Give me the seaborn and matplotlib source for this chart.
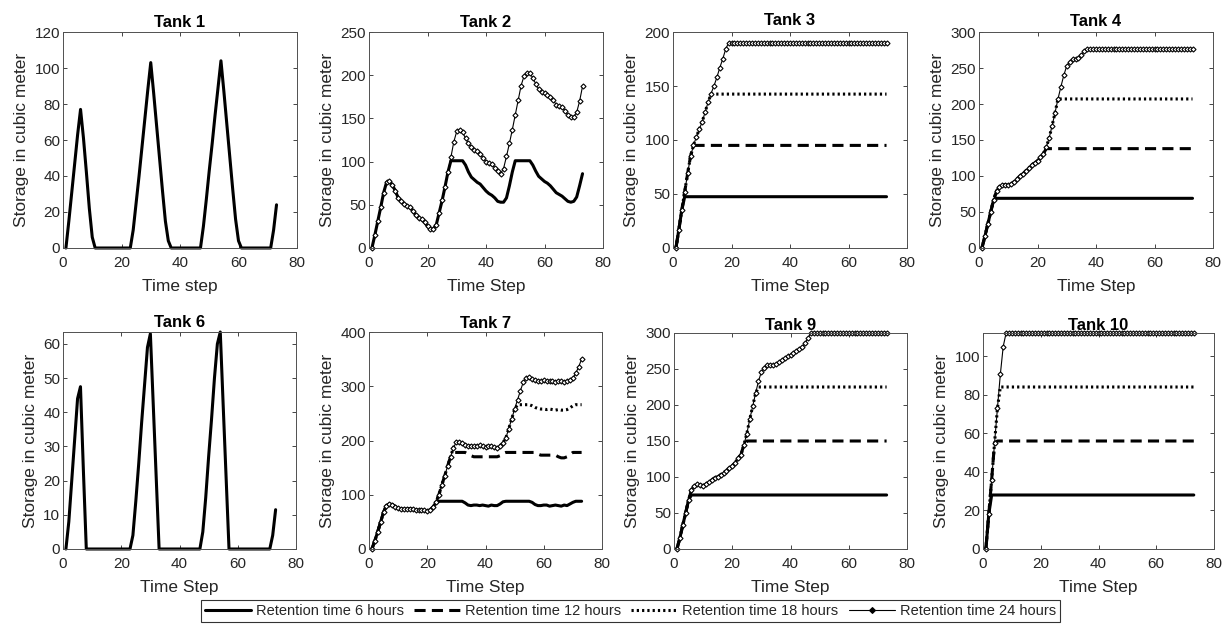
import numpy as np
import matplotlib
matplotlib.use("Agg")
import matplotlib.pyplot as plt
from matplotlib.lines import Line2D
import seaborn as sns

sns.set_theme(style="ticks")
plt.rcParams.update({
    "font.family": ["Liberation Sans", "DejaVu Sans"],
    "lines.scale_dashes": False,
    "xtick.direction": "in", "ytick.direction": "in",
    "xtick.top": True, "ytick.right": True,
    "xtick.major.size": 3, "ytick.major.size": 3,
    "xtick.major.width": 0.6, "ytick.major.width": 0.6,
    "xtick.color": "#262626", "ytick.color": "#262626",
    "xtick.labelcolor": "#262626", "ytick.labelcolor": "#262626",
    "xtick.labelsize": 11, "ytick.labelsize": 11,
    "axes.edgecolor": "#505050", "axes.linewidth": 0.7,
    "axes.labelsize": 12.5, "axes.labelcolor": "#262626",
    "axes.titlesize": 12, "axes.titleweight": "bold",
    "axes.facecolor": "white", "figure.facecolor": "white",
})

# Simulation time steps (hourly)
time_step = np.arange(1, 74)

RETENTION = ["Retention time 6 hours", "Retention time 12 hours",
             "Retention time 18 hours", "Retention time 24 hours"]

# ---------------- Tank 1 ----------------
tank1_6h = [
    0, 15, 31, 47, 63, 77, 61, 42, 22, 6,
    0, 0, 0, 0, 0, 0, 0, 0, 0, 0,
    0, 0, 0, 10, 25, 40, 56, 72, 88, 103,
    86, 68, 50, 32, 15, 4, 0, 0, 0, 0,
    0, 0, 0, 0, 0, 0, 0, 12, 27, 43,
    58, 74, 89, 104, 87, 69, 51, 33, 16, 4,
    0, 0, 0, 0, 0, 0, 0, 0, 0, 0,
    0, 10, 24,
]

# ---------------- Tank 2 ----------------
tank2_6h = [
    0, 15, 31, 47, 64, 76, 77, 73, 66, 58,
    54, 51, 49, 47, 43, 38, 35, 33, 30, 25,
    22, 22, 27, 41, 55, 71, 88, 101, 101, 101,
    101, 101, 96, 88, 82, 79, 76, 74, 70, 66,
    63, 61, 58, 54, 53, 53, 58, 72, 88, 101,
    101, 101, 101, 101, 101, 96, 89, 83, 80, 77,
    75, 72, 68, 64, 62, 60, 57, 54, 53, 54,
    59, 72, 86,
]
tank2_24h = [
    0, 15, 31, 47, 64, 76, 77, 73, 66, 58,
    54, 51, 49, 47, 43, 38, 35, 33, 30, 25,
    22, 22, 27, 41, 55, 71, 88, 105, 123, 135,
    137, 134, 127, 121, 117, 114, 112, 109, 104, 100,
    98, 97, 93, 89, 86, 92, 106, 121, 137, 154,
    171, 188, 199, 203, 202, 197, 190, 184, 181, 179,
    177, 175, 171, 166, 164, 163, 159, 154, 152, 152,
    157, 170, 187,
]

# ---------------- Tank 3 ----------------
tank3_6h = [
    0, 17, 35, 47.5, 47.5, 47.5, 47.5, 47.5, 47.5, 47.5,
    47.5, 47.5, 47.5, 47.5, 47.5, 47.5, 47.5, 47.5, 47.5, 47.5,
    47.5, 47.5, 47.5, 47.5, 47.5, 47.5, 47.5, 47.5, 47.5, 47.5,
    47.5, 47.5, 47.5, 47.5, 47.5, 47.5, 47.5, 47.5, 47.5, 47.5,
    47.5, 47.5, 47.5, 47.5, 47.5, 47.5, 47.5, 47.5, 47.5, 47.5,
    47.5, 47.5, 47.5, 47.5, 47.5, 47.5, 47.5, 47.5, 47.5, 47.5,
    47.5, 47.5, 47.5, 47.5, 47.5, 47.5, 47.5, 47.5, 47.5, 47.5,
    47.5, 47.5, 47.5,
]
tank3_12h = [
    0, 17, 35, 52, 69, 85, 95, 95, 95, 95,
    95, 95, 95, 95, 95, 95, 95, 95, 95, 95,
    95, 95, 95, 95, 95, 95, 95, 95, 95, 95,
    95, 95, 95, 95, 95, 95, 95, 95, 95, 95,
    95, 95, 95, 95, 95, 95, 95, 95, 95, 95,
    95, 95, 95, 95, 95, 95, 95, 95, 95, 95,
    95, 95, 95, 95, 95, 95, 95, 95, 95, 95,
    95, 95, 95,
]
tank3_18h = [
    0, 17, 35, 52, 69, 85, 95, 103, 110, 117,
    126, 135, 142.5, 142.5, 142.5, 142.5, 142.5, 142.5, 142.5, 142.5,
    142.5, 142.5, 142.5, 142.5, 142.5, 142.5, 142.5, 142.5, 142.5, 142.5,
    142.5, 142.5, 142.5, 142.5, 142.5, 142.5, 142.5, 142.5, 142.5, 142.5,
    142.5, 142.5, 142.5, 142.5, 142.5, 142.5, 142.5, 142.5, 142.5, 142.5,
    142.5, 142.5, 142.5, 142.5, 142.5, 142.5, 142.5, 142.5, 142.5, 142.5,
    142.5, 142.5, 142.5, 142.5, 142.5, 142.5, 142.5, 142.5, 142.5, 142.5,
    142.5, 142.5, 142.5,
]
tank3_24h = [
    0, 17, 35, 52, 69, 85, 95, 103, 110, 117,
    126, 135, 143, 150, 158, 167, 175, 184, 190, 190,
    190, 190, 190, 190, 190, 190, 190, 190, 190, 190,
    190, 190, 190, 190, 190, 190, 190, 190, 190, 190,
    190, 190, 190, 190, 190, 190, 190, 190, 190, 190,
    190, 190, 190, 190, 190, 190, 190, 190, 190, 190,
    190, 190, 190, 190, 190, 190, 190, 190, 190, 190,
    190, 190, 190,
]

# ---------------- Tank 4 ----------------
tank4_6h = [
    0, 16, 33, 50, 67, 69, 69, 69, 69, 69,
    69, 69, 69, 69, 69, 69, 69, 69, 69, 69,
    69, 69, 69, 69, 69, 69, 69, 69, 69, 69,
    69, 69, 69, 69, 69, 69, 69, 69, 69, 69,
    69, 69, 69, 69, 69, 69, 69, 69, 69, 69,
    69, 69, 69, 69, 69, 69, 69, 69, 69, 69,
    69, 69, 69, 69, 69, 69, 69, 69, 69, 69,
    69, 69, 69,
]
tank4_12h = [
    0, 16, 33, 50, 67, 79, 85, 88, 88, 87,
    89, 92, 96, 100, 103, 107, 111, 115, 118, 121,
    126, 131, 138, 138, 138, 138, 138, 138, 138, 138,
    138, 138, 138, 138, 138, 138, 138, 138, 138, 138,
    138, 138, 138, 138, 138, 138, 138, 138, 138, 138,
    138, 138, 138, 138, 138, 138, 138, 138, 138, 138,
    138, 138, 138, 138, 138, 138, 138, 138, 138, 138,
    138, 138, 138,
]
tank4_18h = [
    0, 16, 33, 50, 67, 79, 85, 88, 88, 87,
    89, 92, 96, 100, 103, 107, 111, 115, 118, 121,
    126, 131, 140, 153, 170, 188, 207, 207, 207, 207,
    207, 207, 207, 207, 207, 207, 207, 207, 207, 207,
    207, 207, 207, 207, 207, 207, 207, 207, 207, 207,
    207, 207, 207, 207, 207, 207, 207, 207, 207, 207,
    207, 207, 207, 207, 207, 207, 207, 207, 207, 207,
    207, 207, 207,
]
tank4_24h = [
    0, 16, 33, 50, 67, 79, 85, 88, 88, 87,
    89, 92, 96, 100, 103, 107, 111, 115, 118, 121,
    126, 131, 140, 153, 170, 188, 207, 224, 240, 253,
    259, 263, 263, 264, 268, 274, 277, 277, 277, 277,
    277, 277, 277, 277, 277, 277, 277, 277, 277, 277,
    277, 277, 277, 277, 277, 277, 277, 277, 277, 277,
    277, 277, 277, 277, 277, 277, 277, 277, 277, 277,
    277, 277, 277,
]

# ---------------- Tank 6 ----------------
tank6_6h = [
    0, 8, 20, 32, 44, 47.5, 23, 0, 0, 0,
    0, 0, 0, 0, 0, 0, 0, 0, 0, 0,
    0, 0, 0, 4, 14, 25, 37, 48, 59, 63,
    42, 21, 0, 0, 0, 0, 0, 0, 0, 0,
    0, 0, 0, 0, 0, 0, 0, 5, 15, 27,
    38, 50, 60, 63.5, 42, 21, 0, 0, 0, 0,
    0, 0, 0, 0, 0, 0, 0, 0, 0, 0,
    0, 4, 11.5,
]

# ---------------- Tank 7 ----------------
tank7_6h = [
    0, 15, 32, 50, 68, 80, 83, 82, 78, 75,
    74, 73, 74, 74, 73, 72, 71, 72, 71, 70,
    72, 77, 86, 88, 88, 88, 88, 88, 88, 88,
    88, 88, 85, 81, 80, 81, 81, 80, 81, 80,
    79, 81, 80, 80, 83, 87, 88, 88, 88, 88,
    88, 88, 88, 88, 88, 86, 82, 80, 80, 81,
    81, 79, 80, 81, 80, 79, 81, 80, 83, 86,
    88, 88, 88,
]
tank7_12h = [
    0, 15, 32, 50, 68, 80, 83, 82, 78, 75,
    74, 73, 74, 74, 73, 72, 71, 72, 71, 70,
    72, 77, 86, 100, 118, 135, 153, 170, 178, 178,
    178, 178, 178, 175, 172, 170, 170, 170, 170, 170,
    170, 170, 170, 170, 172, 176, 178, 178, 178, 178,
    178, 178, 178, 178, 178, 178, 178, 175, 173, 173,
    173, 173, 173, 173, 170, 168, 168, 170, 174, 178,
    178, 178, 178,
]
tank7_18h = [
    0, 15, 32, 50, 68, 80, 83, 82, 78, 75,
    74, 73, 74, 74, 73, 72, 71, 72, 71, 70,
    72, 77, 86, 100, 118, 135, 153, 170, 187, 197,
    198, 195, 192, 190, 190, 189, 190, 191, 189, 188,
    189, 190, 188, 187, 190, 196, 205, 222, 240, 258,
    266, 266, 266, 266, 266, 264, 261, 259, 258, 258,
    257, 258, 257, 256, 257, 256, 256, 257, 260, 264,
    266, 266, 266,
]
tank7_24h = [
    0, 15, 32, 50, 68, 80, 83, 82, 78, 75,
    74, 73, 74, 74, 73, 72, 71, 72, 71, 70,
    72, 77, 86, 100, 118, 135, 153, 170, 187, 197,
    198, 195, 192, 190, 190, 189, 190, 191, 189, 188,
    189, 190, 188, 187, 190, 196, 205, 222, 240, 258,
    275, 292, 308, 316, 317, 314, 311, 310, 310, 311,
    309, 310, 310, 308, 309, 310, 308, 309, 311, 315,
    324, 336, 350,
]

# ---------------- Tank 9 ----------------
tank9_6h = [
    0, 15, 33, 50, 68, 75, 75, 75, 75, 75,
    75, 75, 75, 75, 75, 75, 75, 75, 75, 75,
    75, 75, 75, 75, 75, 75, 75, 75, 75, 75,
    75, 75, 75, 75, 75, 75, 75, 75, 75, 75,
    75, 75, 75, 75, 75, 75, 75, 75, 75, 75,
    75, 75, 75, 75, 75, 75, 75, 75, 75, 75,
    75, 75, 75, 75, 75, 75, 75, 75, 75, 75,
    75, 75, 75,
]
tank9_12h = [
    0, 15, 33, 50, 68, 82, 88, 90, 89, 88,
    90, 93, 96, 99, 100, 103, 106, 109, 112, 115,
    120, 126, 131, 145, 150, 150, 150, 150, 150, 150,
    150, 150, 150, 150, 150, 150, 150, 150, 150, 150,
    150, 150, 150, 150, 150, 150, 150, 150, 150, 150,
    150, 150, 150, 150, 150, 150, 150, 150, 150, 150,
    150, 150, 150, 150, 150, 150, 150, 150, 150, 150,
    150, 150, 150,
]
tank9_18h = [
    0, 15, 33, 50, 68, 82, 88, 90, 89, 88,
    90, 93, 96, 99, 100, 103, 106, 109, 112, 115,
    120, 126, 131, 145, 160, 180, 198, 216, 225, 225,
    225, 225, 225, 225, 225, 225, 225, 225, 225, 225,
    225, 225, 225, 225, 225, 225, 225, 225, 225, 225,
    225, 225, 225, 225, 225, 225, 225, 225, 225, 225,
    225, 225, 225, 225, 225, 225, 225, 225, 225, 225,
    225, 225, 225,
]
tank9_24h = [
    0, 15, 33, 50, 68, 82, 88, 90, 89, 88,
    90, 93, 96, 99, 100, 103, 106, 109, 112, 115,
    120, 126, 131, 145, 160, 180, 198, 216, 233, 246,
    252, 256, 255, 255, 257, 260, 262, 265, 268, 270,
    272, 275, 278, 280, 286, 293, 300, 300, 300, 300,
    300, 300, 300, 300, 300, 300, 300, 300, 300, 300,
    300, 300, 300, 300, 300, 300, 300, 300, 300, 300,
    300, 300, 300,
]

# ---------------- Tank 10 ----------------
tank10_6h = [
    0, 18, 28, 28, 28, 28, 28, 28, 28, 28,
    28, 28, 28, 28, 28, 28, 28, 28, 28, 28,
    28, 28, 28, 28, 28, 28, 28, 28, 28, 28,
    28, 28, 28, 28, 28, 28, 28, 28, 28, 28,
    28, 28, 28, 28, 28, 28, 28, 28, 28, 28,
    28, 28, 28, 28, 28, 28, 28, 28, 28, 28,
    28, 28, 28, 28, 28, 28, 28, 28, 28, 28,
    28, 28, 28,
]
tank10_12h = [
    0, 18, 36, 55, 56, 56, 56, 56, 56, 56,
    56, 56, 56, 56, 56, 56, 56, 56, 56, 56,
    56, 56, 56, 56, 56, 56, 56, 56, 56, 56,
    56, 56, 56, 56, 56, 56, 56, 56, 56, 56,
    56, 56, 56, 56, 56, 56, 56, 56, 56, 56,
    56, 56, 56, 56, 56, 56, 56, 56, 56, 56,
    56, 56, 56, 56, 56, 56, 56, 56, 56, 56,
    56, 56, 56,
]
tank10_18h = [
    0, 18, 36, 55, 73, 84, 84, 84, 84, 84,
    84, 84, 84, 84, 84, 84, 84, 84, 84, 84,
    84, 84, 84, 84, 84, 84, 84, 84, 84, 84,
    84, 84, 84, 84, 84, 84, 84, 84, 84, 84,
    84, 84, 84, 84, 84, 84, 84, 84, 84, 84,
    84, 84, 84, 84, 84, 84, 84, 84, 84, 84,
    84, 84, 84, 84, 84, 84, 84, 84, 84, 84,
    84, 84, 84,
]
tank10_24h = [
    0, 18, 36, 55, 73, 90.5, 105, 112, 112, 112,
    112, 112, 112, 112, 112, 112, 112, 112, 112, 112,
    112, 112, 112, 112, 112, 112, 112, 112, 112, 112,
    112, 112, 112, 112, 112, 112, 112, 112, 112, 112,
    112, 112, 112, 112, 112, 112, 112, 112, 112, 112,
    112, 112, 112, 112, 112, 112, 112, 112, 112, 112,
    112, 112, 112, 112, 112, 112, 112, 112, 112, 112,
    112, 112, 112,
]

# Line appearance for each retention time
line_styles = {
    RETENTION[0]: dict(linestyle="-", linewidth=2.2),
    RETENTION[1]: dict(linestyle=(0, (8, 4.5)), linewidth=2.2),
    RETENTION[2]: dict(linestyle=(0, (1.6, 2.2)), linewidth=2.2),
    RETENTION[3]: dict(linestyle="-", linewidth=0.8, marker="D", markersize=2.6,
                       markerfacecolor="white", markeredgecolor="black",
                       markeredgewidth=0.8),
}

W, H = 1231, 624
# Panel definitions: (title, x label, pixel box left/top/right/bottom, y limits, y ticks, series, title pad)
panels = [
    ("Tank 1", "Time step", (63, 32, 297, 248), (0, 120), range(0, 121, 20),
     {RETENTION[0]: tank1_6h}, 3.6),
    ("Tank 2", "Time Step", (369, 32, 603, 248), (0, 250), range(0, 251, 50),
     {RETENTION[0]: tank2_6h, RETENTION[3]: tank2_24h}, 3.6),
    ("Tank 3", "Time Step", (673, 32, 907, 248), (0, 200), range(0, 201, 50),
     {RETENTION[0]: tank3_6h, RETENTION[1]: tank3_12h,
      RETENTION[2]: tank3_18h, RETENTION[3]: tank3_24h}, 5.0),
    ("Tank 4", "Time Step", (979, 32, 1213, 248), (0, 300), range(0, 301, 50),
     {RETENTION[0]: tank4_6h, RETENTION[1]: tank4_12h,
      RETENTION[2]: tank4_18h, RETENTION[3]: tank4_24h}, 4.3),
    ("Tank 6", "Time Step", (63, 332, 296, 549), (0, 63.5), range(0, 61, 10),
     {RETENTION[0]: tank6_6h}, 3.3),
    ("Tank 7", "Time Step", (369, 332, 602, 549), (0, 400), range(0, 401, 100),
     {RETENTION[0]: tank7_6h, RETENTION[1]: tank7_12h,
      RETENTION[2]: tank7_18h, RETENTION[3]: tank7_24h}, 3.0),
    ("Tank 9", "Time Step", (674, 333, 907, 549), (0, 300), range(0, 301, 50),
     {RETENTION[0]: tank9_6h, RETENTION[1]: tank9_12h,
      RETENTION[2]: tank9_18h, RETENTION[3]: tank9_24h}, -2.4),
    ("Tank 10", "Time Step", (983, 333, 1214, 549), (0, 112), range(0, 101, 20),
     {RETENTION[0]: tank10_6h, RETENTION[1]: tank10_12h,
      RETENTION[2]: tank10_18h, RETENTION[3]: tank10_24h}, 0.0),
]

fig = plt.figure(figsize=(W / 100, H / 100), dpi=100)

for title, xlabel, (left, top, right, bottom), ylim, yticks, series, tpad in panels:
    ax = fig.add_axes([left / W, 1 - bottom / H, (right - left) / W, (bottom - top) / H])
    for name, values in series.items():
        sns.lineplot(x=time_step, y=values, ax=ax, color="black",
                     clip_on=False, **line_styles[name])
    ax.set_xlim(0, 80)
    ax.set_ylim(*ylim)
    ax.set_xticks([0, 20, 40, 60, 80])
    ax.set_yticks(list(yticks))
    ax.tick_params(axis="x", pad=6)
    ax.tick_params(axis="y", pad=2)
    ax.set_title(title, pad=tpad, color="black")
    ax.set_xlabel(xlabel, labelpad=6)
    ax.set_ylabel("Storage in cubic meter", labelpad=4)
    for sp in ax.spines.values():
        sp.set_visible(True)

# Shared legend below the panels
handles = []
for name in RETENTION:
    style = dict(line_styles[name])
    if "marker" in style:
        style["markerfacecolor"] = "black"
        style["markersize"] = 3.0
    handles.append(Line2D([], [], color="black", **style))
leg = fig.legend(handles, RETENTION, loc="lower center", bbox_to_anchor=(0.512, 0.004),
                 ncol=4, frameon=True, fancybox=False, fontsize=10.5,
                 handlelength=3.2, handletextpad=0.3, columnspacing=0.7,
                 borderpad=0.25, borderaxespad=0.0, edgecolor="black")
leg.get_frame().set_linewidth(0.8)

fig.savefig("out.png", dpi=100)
